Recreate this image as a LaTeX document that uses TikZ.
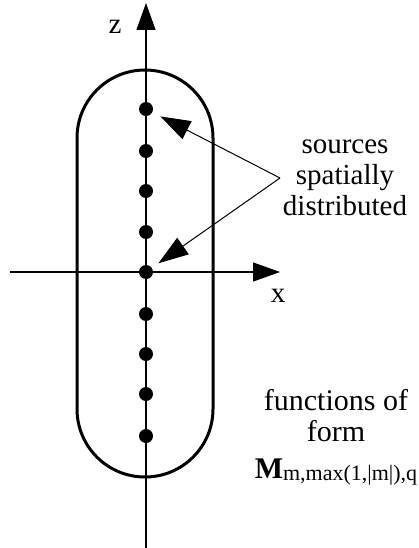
\documentclass[tikz,border=0pt]{standalone}
\usepackage{fontspec}
\setmainfont{Liberation Serif}
\usetikzlibrary{arrows.meta}
\tikzset{
  axis/.style={line width=1.2pt},
  bigtip/.style={-{Triangle[length=27pt,width=19pt]}},
  pointer/.style={line width=1pt,-{Triangle[length=30pt,width=20pt]}},
  src/.style={circle,fill=black,inner sep=0pt,minimum size=14pt},
  capsule/.style={line width=3pt,rounded corners=68pt},
  lbl/.style={font=\fontsize{29}{31}\selectfont,inner sep=0pt},
}
\begin{document}
\begin{tikzpicture}[x=1pt,y=-1pt]
\useasboundingbox (0,0) rectangle (419,548);
% capsule
\draw[capsule] (77,70) rectangle (213,477);
% axes
\coordinate (zb) at (146,548);
\coordinate (zt) at (146,3);
\coordinate (xl) at (10,272);
\coordinate (xr) at (280,272);
\draw[axis,bigtip] (zb) -- (zt);
\draw[axis,bigtip] (xl) -- (xr);
\node[lbl] (zlab) at (115,27) {z};
\node[lbl] (xlab) at (278,296) {x};
% sources
\foreach \i/\y in {1/109,2/151,3/191,4/232,5/272,6/314,7/354,8/394,9/436}
  \node[src] (d\i) at (146,\y) {};
% label and pointers
\node[lbl,align=center] (srclab) at (345,178) {sources\\spatially\\distributed};
\coordinate (p) at (280,178);
\draw[pointer,shorten >=9pt] (p) -- (d1);
\draw[pointer,shorten >=8pt] (p) -- (d5);
\node[lbl,align=center,font=\fontsize{30}{31}\selectfont] (fn) at (336,437) {functions of\\form\\[6pt]%
  \textbf{M}\raisebox{-2pt}{\fontsize{22}{22}\selectfont m,max(1,|m|),q}};
\end{tikzpicture}
\end{document}
